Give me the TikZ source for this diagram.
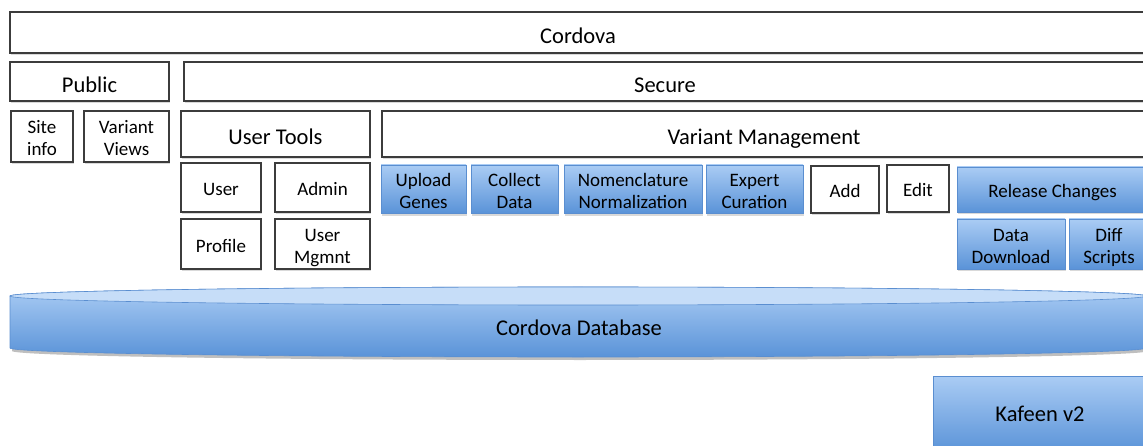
\documentclass[tikz,border=0pt]{standalone}
\usepackage{fontspec}
\setmainfont{Carlito}
\usetikzlibrary{shadows}

\definecolor{boxtop}{HTML}{AACCF4}
\definecolor{boxbot}{HTML}{5A93D8}
\definecolor{boxedge}{HTML}{5A8ED0}
\definecolor{dbtop}{HTML}{C6DDF8}
\definecolor{lineg}{HTML}{3C3C3C}

% struts that put the text a little below the middle of a box
\newcommand\bigstrut{\rule[-6pt]{0pt}{33.2pt}}
\newcommand\smallstrut{\rule[-5pt]{0pt}{26.6pt}}

\tikzset{
  box/.style={draw=lineg, line width=1.2pt, fill=white, inner sep=0pt, align=center,
    drop shadow={shadow xshift=1pt, shadow yshift=-2.5pt, opacity=.3}},
  bigbox/.style={box, font=\fontsize{22.5}{26}\selectfont,
    execute at begin node=\bigstrut, execute at end node=\bigstrut},
  smallbox/.style={box, font=\fontsize{19}{22}\selectfont,
    execute at begin node=\smallstrut, execute at end node=\smallstrut},
  pairbox/.style={box, font=\fontsize{19}{22}\selectfont,
    text height=43.2pt, text depth=5pt},
  bluebase/.style={draw=boxedge, line width=.6pt, top color=boxtop, bottom color=boxbot,
    inner sep=0pt, align=center,
    drop shadow={shadow xshift=1pt, shadow yshift=-2.5pt, opacity=.3}},
  bluebox/.style={bluebase, font=\fontsize{19}{22}\selectfont,
    execute at begin node=\smallstrut, execute at end node=\smallstrut},
  bluepair/.style={bluebase, font=\fontsize{19}{22}\selectfont,
    text height=43.2pt, text depth=5pt}
}

\begin{document}
\begin{tikzpicture}[x=1pt,y=1pt]
\useasboundingbox (0,0) rectangle (1143,-446);

% top layers
\node[bigbox, minimum width=1136, minimum height=41] (cordova) at (578,-32.5) {Cordova};
\node[bigbox, minimum width=159, minimum height=39] (public) at (89.5,-81.5) {Public};
\node[bigbox, minimum width=962, minimum height=39] (secure) at (665,-81.5) {Secure};

% public side
\node[pairbox, minimum width=62, minimum height=51] (siteinfo) at (42,-136.5) {Site\\info};
\node[pairbox, minimum width=85, minimum height=51] (varviews) at (126.5,-136.5) {Variant\\Views};

% user tools
\node[bigbox, minimum width=189, minimum height=46] (usertools) at (275.5,-134) {User Tools};
\node[smallbox, minimum width=80, minimum height=49] (user) at (221,-187.5) {User};
\node[smallbox, minimum width=95, minimum height=49] (admin) at (322.5,-187.5) {Admin};
\node[smallbox, minimum width=80, minimum height=50] (profile) at (221,-244) {Profile};
\node[pairbox, minimum width=95, minimum height=50] (usermgmnt) at (322.5,-244) {User\\Mgmnt};

% variant management
\node[bigbox, minimum width=764, minimum height=46] (varmgmt) at (764,-134) {Variant Management};
\node[bluepair, minimum width=85, minimum height=48] (upload) at (423.5,-189) {Upload\\Genes};
\node[bluepair, minimum width=87, minimum height=48] (collect) at (514.5,-189) {Collect\\Data};
\node[bluepair, minimum width=138, minimum height=48] (nomen) at (633,-189) {Nomenclature\\Normalization};
\node[bluepair, minimum width=97, minimum height=48] (expert) at (754.5,-189) {Expert\\Curation};
\node[smallbox, minimum width=68, minimum height=47] (add) at (845,-189.5) {Add};
\node[smallbox, minimum width=62, minimum height=47] (edit) at (918,-188.5) {Edit};
\node[bluebox, minimum width=191, minimum height=45] (release) at (1052.5,-189.5) {Release Changes};
\node[bluepair, minimum width=108, minimum height=50] (datadl) at (1011,-244) {Data\\Download};
\node[bluepair, minimum width=80, minimum height=50] (diff) at (1109,-244) {Diff\\Scripts};

% database
\path[fill=black, opacity=.25] (12,-299) -- (12,-351)
  arc[start angle=180, end angle=360, x radius=568, y radius=9] -- (1148,-299) -- cycle;
\path[draw=boxedge, line width=.6pt, top color=boxtop, bottom color=boxbot]
  (10,-296) -- (10,-348)
  arc[start angle=180, end angle=360, x radius=568, y radius=9]
  -- (1146,-296)
  arc[start angle=0, end angle=180, x radius=568, y radius=9] -- cycle;
\draw[boxedge, line width=.6pt, fill=dbtop] (578,-296) ellipse[x radius=568, y radius=9];
\node[font=\fontsize{22.5}{26}\selectfont] (db) at (579,-328) {Cordova Database};

% kafeen
\node[bluebase, font=\fontsize{22.5}{26}\selectfont, minimum width=214, minimum height=76] (kafeen) at (1040,-414) {Kafeen v2};
\end{tikzpicture}
\end{document}
